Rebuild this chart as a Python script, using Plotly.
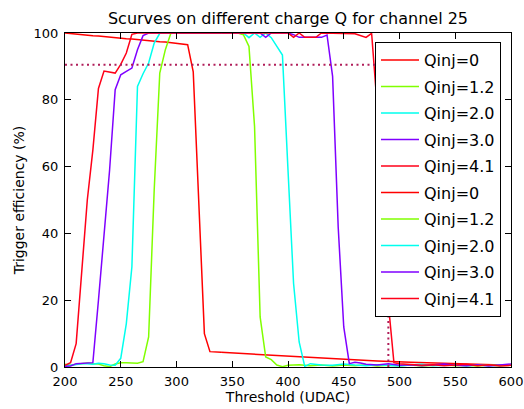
import plotly.graph_objects as go

# ---------------- data ----------------
QINJ_LABELS = ["Qinj=0", "Qinj=1.2", "Qinj=2.0", "Qinj=3.0", "Qinj=4.1"]
COLORS = ["#ff0000", "#80ff00", "#00ffee", "#7f00ff", "#ff0018"]

# first scan set (low threshold side)
X_A = [200, 205, 210, 215, 220, 225, 230, 235, 240, 245, 250, 255, 260, 265, 270,
       275, 280, 285, 290, 295, 300, 305, 310, 315, 320, 325, 330, 335, 340]
Y_A_Q0 = [100, 99.8, 99.7, 99.5, 99.4, 99.2, 99.1, 98.9, 98.8, 98.6, 98.5, 98.3, 98.2, 98.0, 97.9,
          97.7, 97.6, 97.4, 97.3, 97.1, 97.0, 96.8, 96.5, 88.4, 49.0, 10.0, 4.6, 4.5, 4.4]
Y_A_Q12 = [0.8, 0.5, 0.8, 1.0, 1.2, 1.0, 0.9, 0.4, 0.1, 0.9, 1.3, 1.3, 1.2, 1.1, 1.6,
           9.0, 53.0, 88.0, 95.0, 100, 100, 100, 100, 100, 100, 100, 100, 100, 100]
Y_A_Q20 = [0.3, 0.6, 0.9, 1.0, 1.0, 0.8, 1.1, 1.0, 0.6, 0.5, 2.6, 13.0, 30.0, 84.0, 87.8,
           91.0, 97.0, 99.9, 100, 100, 100, 100, 100, 100, 100, 100, 100, 100, 100]
Y_A_Q30 = [0.2, 0.3, 1.0, 1.1, 1.2, 1.3, 20.0, 39.0, 59.0, 83.0, 87.5, 88.5, 89.5, 95.0, 99.2,
           100, 100, 100, 100, 100, 100, 100, 100, 100, 100, 100, 100, 100, 100]
Y_A_Q41 = [0.5, 1.3, 7.0, 28.0, 50.0, 65.0, 83.4, 88.6, 88.2, 88.0, 90.6, 94.0, 99.6, 100, 100,
           100, 100, 100, 100, 100, 100, 100, 100, 100, 100, 100, 100, 100, 100]

# second scan set (high threshold side)
X_B_Q0 = [340, 360, 390, 420, 450, 480, 510, 540, 570, 600]
Y_B_Q0 = [4.4, 4.0, 3.4, 2.9, 2.3, 1.8, 1.4, 1.1, 0.8, 0.5]

X_B_Q12 = [340, 350, 355, 360, 365, 370, 375, 380, 385, 390, 395, 400,
           410, 420, 430, 440, 450, 460, 470, 480, 490, 500, 510, 520, 530, 540, 550, 560, 570, 580, 590, 600]
Y_B_Q12 = [100, 100, 100, 99.5, 96, 72, 15, 3, 2.2, 0.6, 0.1, 0.5,
           0.7, 0.4, 0.6, 0.3, 0.6, 0.4, 0.7, 0.3, 0.5, 0.4, 0.6, 0.3, 0.5, 0.7, 0.4, 0.5, 0.3, 0.6, 0.4, 0.5]

X_B_Q20 = [340, 350, 360, 365, 370, 375, 380, 385, 390, 395, 400, 405, 410, 415, 420, 425, 430,
           440, 450, 460, 470, 480, 490, 500, 510, 520, 530, 540, 550, 560, 570, 580, 590, 600]
Y_B_Q20 = [100, 100, 100, 98.6, 100, 98.7, 100, 98.6, 96, 93.4, 59, 25, 7.5, 0.2, 1.0, 0.8, 0.6,
           0.5, 0.9, 0.6, 0.4, 0.7, 0.5, 0.3, 0.6, 0.8, 0.4, 0.5, 0.7, 0.3, 0.6, 0.4, 0.5, 0.6]

X_B_Q30 = [340, 350, 360, 370, 375, 380, 385, 390, 400, 405, 410, 415, 420, 425, 430, 435, 440, 445,
           450, 455, 460, 465, 470, 480, 490, 500, 510, 520, 530, 540, 550, 560, 570, 580, 590, 600]
Y_B_Q30 = [100, 100, 100, 100, 100, 98.7, 100, 100, 100, 99.5, 98.7, 98.7, 98.7, 98.7, 98.7, 99.4, 87, 42,
           12, 1.0, 1.4, 1.2, 0.8, 0.6, 1.0, 0.5, 0.7, 0.4, 0.6, 0.9, 0.5, 0.4, 0.7, 0.3, 0.6, 0.9]

X_B_Q41 = [340, 360, 380, 400, 405, 410, 415, 420, 425, 430, 440, 450, 460, 470, 475,
           480, 485, 490, 495, 500, 510, 520, 530, 540, 550, 560, 570, 580, 590, 600]
Y_B_Q41 = [100, 100, 100, 100, 98.7, 100, 98.7, 98.7, 98.7, 100, 100, 100, 99.8, 98.7, 99.9,
           78, 52, 19, 1.3, 1.0, 0.8, 0.5, 0.7, 0.4, 0.6, 0.8, 0.4, 0.7, 0.3, 0.5]

# efficiency level marker
EFF_LEVEL = 90.5
THR_AT_LEVEL = 490
X_START = 200

X_TICKS = [200, 250, 300, 350, 400, 450, 500, 550, 600]
Y_TICKS = [0, 20, 40, 60, 80, 100]

TITLE = "Scurves on different charge Q for channel 25"
XLABEL = "Threshold (UDAC)"
YLABEL = "Trigger efficiency (%)"

# ---------------- figure ----------------
FONT = "DejaVu Sans"
fig = go.Figure()

set_a = [(X_A, Y_A_Q0), (X_A, Y_A_Q12), (X_A, Y_A_Q20), (X_A, Y_A_Q30), (X_A, Y_A_Q41)]
set_b = [(X_B_Q0, Y_B_Q0), (X_B_Q12, Y_B_Q12), (X_B_Q20, Y_B_Q20),
         (X_B_Q30, Y_B_Q30), (X_B_Q41, Y_B_Q41)]

k = 0
for dataset in (set_a, set_b):
    for (xs, ys), name, col in zip(dataset, QINJ_LABELS, COLORS):
        fig.add_trace(go.Scatter(
            x=xs, y=ys, mode="lines", name=name,
            line=dict(color=col, width=1.5),
            legendgroup="g%02d" % k,
        ))
        k += 1

fig.add_trace(go.Scatter(
    x=[X_START, THR_AT_LEVEL], y=[EFF_LEVEL, EFF_LEVEL], mode="lines",
    line=dict(color="#b01e5a", width=2, dash="2px,3.5px"), showlegend=False))
fig.add_trace(go.Scatter(
    x=[THR_AT_LEVEL, THR_AT_LEVEL], y=[0, EFF_LEVEL], mode="lines",
    line=dict(color="#b01e5a", width=2, dash="2px,3.5px"), showlegend=False))

axis_common = dict(
    showline=True, linecolor="black", linewidth=1, mirror="ticks",
    ticks="inside", ticklen=6, tickcolor="black", tickwidth=1,
    showgrid=False, zeroline=False, automargin=False,
    tickfont=dict(family=FONT, size=13, color="black"),
)

fig.update_layout(
    width=524, height=409, autosize=False,
    margin=dict(l=65, r=13, t=33, b=42),
    paper_bgcolor="white", plot_bgcolor="white",
    font=dict(family=FONT, color="black"),
    title=dict(text=TITLE, x=0.5, xanchor="center", xref="paper",
               y=1 - 18 / 409, yref="container", yanchor="middle",
               font=dict(family=FONT, size=16, color="black")),
    xaxis=dict(range=[200, 600], tickvals=X_TICKS, ticktext=[str(v) for v in X_TICKS],
               ticklabelstandoff=2,
               title=dict(text=XLABEL, font=dict(family=FONT, size=14), standoff=0),
               **axis_common),
    yaxis=dict(range=[0, 100], tickvals=Y_TICKS, ticktext=[str(v) for v in Y_TICKS],
               ticklabelstandoff=3,
               title=dict(text=YLABEL, font=dict(family=FONT, size=14), standoff=5),
               **axis_common),
    legend=dict(x=(375 - 65) / 446, y=(367 - 42) / 334, xanchor="left", yanchor="top",
                bgcolor="white", bordercolor="black", borderwidth=1,
                font=dict(family=FONT, size=16, color="black"),
                itemwidth=38,
                tracegroupgap=2.7, traceorder="grouped"),
    showlegend=True,
)

fig.write_html("out.html")
